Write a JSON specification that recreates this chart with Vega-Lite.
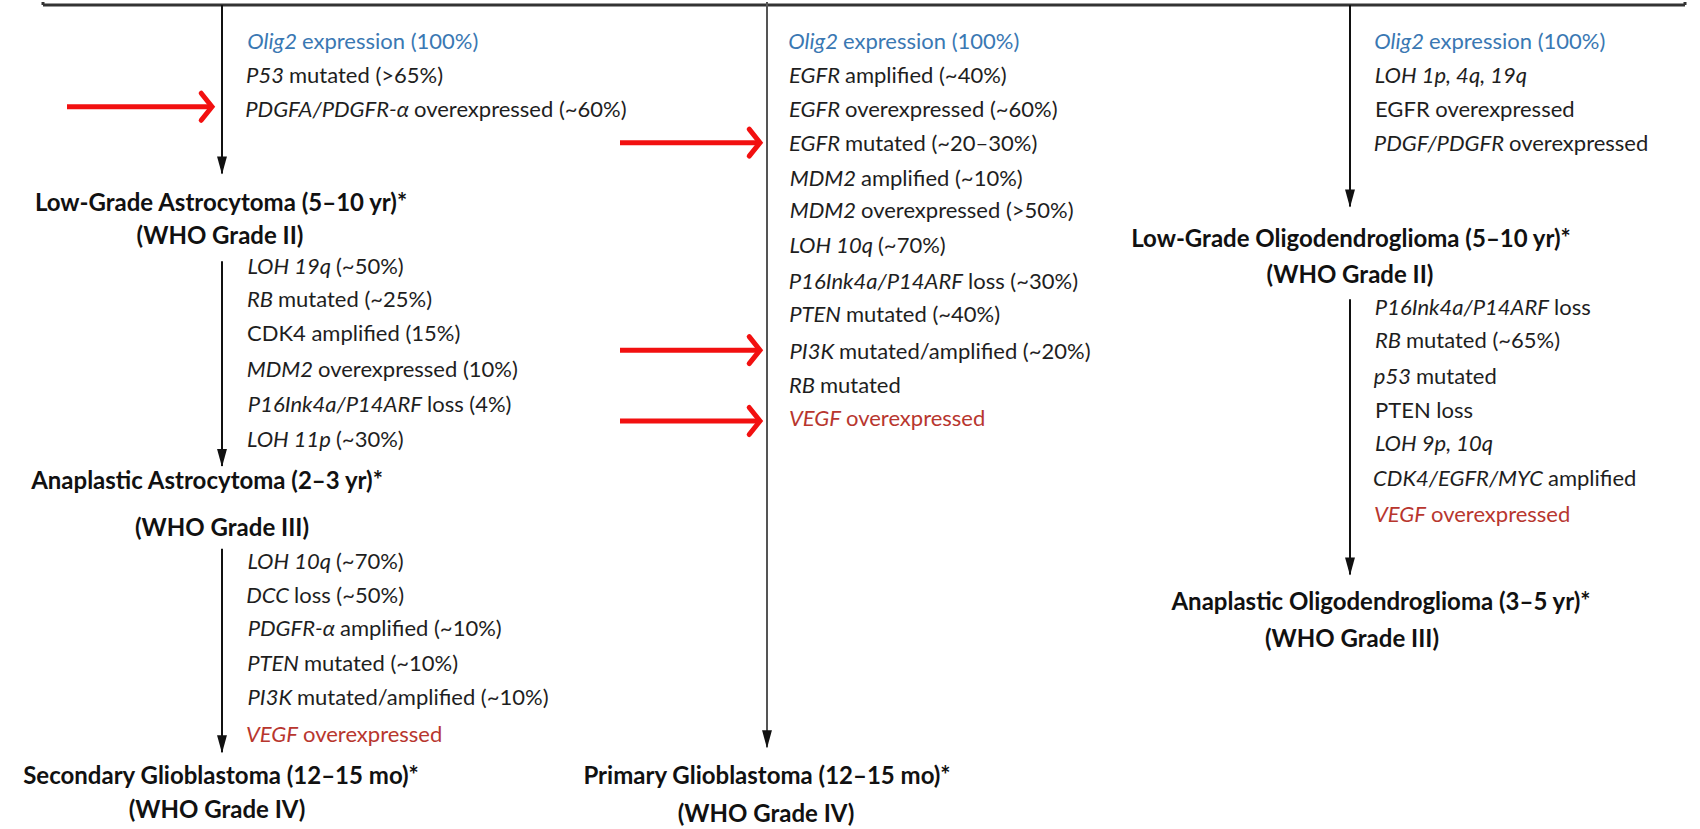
{
  "$schema": "https://vega.github.io/schema/vega-lite/v6.json",
  "width": 1700,
  "height": 829,
  "autosize": {"type": "fit", "contains": "padding"},
  "padding": 0,
  "background": "white",
  "config": {"view": {"stroke": null}},
  "datasets": {
    "lines": [
      {"jx": 297, "y": 40, "gene": "Olig2", "rest": "expression (100%)", "tone": "olig"},
      {"jx": 284, "y": 74, "gene": "P53", "rest": "mutated (>65%)", "tone": "plain"},
      {"jx": 409, "y": 108, "gene": "PDGFA/PDGFR-α", "rest": "overexpressed (~60%)", "tone": "plain"},
      {"jx": 331, "y": 266, "gene": "LOH 19q", "rest": "(~50%)", "tone": "plain"},
      {"jx": 273, "y": 299, "gene": "RB", "rest": "mutated (~25%)", "tone": "plain"},
      {"jx": 242, "y": 333, "gene": "", "rest": "CDK4 amplified (15%)", "tone": "plain"},
      {"jx": 313, "y": 369, "gene": "MDM2", "rest": "overexpressed (10%)", "tone": "plain"},
      {"jx": 422, "y": 404, "gene": "P16Ink4a/P14ARF", "rest": "loss (4%)", "tone": "plain"},
      {"jx": 331, "y": 439, "gene": "LOH 11p", "rest": "(~30%)", "tone": "plain"},
      {"jx": 331, "y": 561, "gene": "LOH 10q", "rest": "(~70%)", "tone": "plain"},
      {"jx": 289, "y": 595, "gene": "DCC", "rest": "loss (~50%)", "tone": "plain"},
      {"jx": 335, "y": 629, "gene": "PDGFR-α", "rest": "amplified (~10%)", "tone": "plain"},
      {"jx": 299, "y": 664, "gene": "PTEN", "rest": "mutated (~10%)", "tone": "plain"},
      {"jx": 292, "y": 698, "gene": "PI3K", "rest": "mutated/amplified (~10%)", "tone": "plain"},
      {"jx": 298, "y": 735, "gene": "VEGF", "rest": "overexpressed", "tone": "vegf"},
      {"jx": 838, "y": 40, "gene": "Olig2", "rest": "expression (100%)", "tone": "olig"},
      {"jx": 840, "y": 74, "gene": "EGFR", "rest": "amplified (~40%)", "tone": "plain"},
      {"jx": 840, "y": 108, "gene": "EGFR", "rest": "overexpressed (~60%)", "tone": "plain"},
      {"jx": 840, "y": 142, "gene": "EGFR", "rest": "mutated (~20–30%)", "tone": "plain"},
      {"jx": 856, "y": 177, "gene": "MDM2", "rest": "amplified (~10%)", "tone": "plain"},
      {"jx": 856, "y": 210, "gene": "MDM2", "rest": "overexpressed (>50%)", "tone": "plain"},
      {"jx": 873, "y": 245, "gene": "LOH 10q", "rest": "(~70%)", "tone": "plain"},
      {"jx": 963, "y": 281, "gene": "P16Ink4a/P14ARF", "rest": "loss (~30%)", "tone": "plain"},
      {"jx": 841, "y": 314, "gene": "PTEN", "rest": "mutated (~40%)", "tone": "plain"},
      {"jx": 834, "y": 351, "gene": "PI3K", "rest": "mutated/amplified (~20%)", "tone": "plain"},
      {"jx": 815, "y": 385, "gene": "RB", "rest": "mutated", "tone": "plain"},
      {"jx": 841, "y": 418, "gene": "VEGF", "rest": "overexpressed", "tone": "vegf"},
      {"jx": 1424, "y": 40, "gene": "Olig2", "rest": "expression (100%)", "tone": "olig"},
      {"jx": 1527, "y": 74, "gene": "LOH 1p, 4q, 19q", "rest": "", "tone": "plain"},
      {"jx": 1370, "y": 108, "gene": "", "rest": "EGFR overexpressed", "tone": "plain"},
      {"jx": 1504, "y": 142, "gene": "PDGF/PDGFR", "rest": "overexpressed", "tone": "plain"},
      {"jx": 1549, "y": 307, "gene": "P16Ink4a/P14ARF", "rest": "loss", "tone": "plain"},
      {"jx": 1401, "y": 340, "gene": "RB", "rest": "mutated (~65%)", "tone": "plain"},
      {"jx": 1411, "y": 376, "gene": "p53", "rest": "mutated", "tone": "plain"},
      {"jx": 1370, "y": 410, "gene": "", "rest": "PTEN loss", "tone": "plain"},
      {"jx": 1493, "y": 443, "gene": "LOH 9p, 10q", "rest": "", "tone": "plain"},
      {"jx": 1543, "y": 478, "gene": "CDK4/EGFR/MYC", "rest": "amplified", "tone": "plain"},
      {"jx": 1426, "y": 514, "gene": "VEGF", "rest": "overexpressed", "tone": "vegf"}
    ],
    "heads": [
      {"x": 221, "y": 202, "label": "Low-Grade Astrocytoma (5–10 yr)*"},
      {"x": 220, "y": 236, "label": "(WHO Grade II)"},
      {"x": 207, "y": 481, "label": "Anaplastic Astrocytoma (2–3 yr)*"},
      {"x": 222, "y": 528, "label": "(WHO Grade III)"},
      {"x": 221, "y": 777, "label": "Secondary Glioblastoma (12–15 mo)*"},
      {"x": 217, "y": 811, "label": "(WHO Grade IV)"},
      {"x": 767, "y": 777, "label": "Primary Glioblastoma (12–15 mo)*"},
      {"x": 766, "y": 815, "label": "(WHO Grade IV)"},
      {"x": 1351, "y": 239, "label": "Low-Grade Oligodendroglioma (5–10 yr)*"},
      {"x": 1350, "y": 275, "label": "(WHO Grade II)"},
      {"x": 1381, "y": 602, "label": "Anaplastic Oligodendroglioma (3–5 yr)*"},
      {"x": 1352, "y": 640, "label": "(WHO Grade III)"}
    ],
    "segs": [
      {"x": 43, "y": 3, "x2": 1685, "y2": 3, "kind": "border"},
      {"x": 43, "y": 0, "x2": 43, "y2": 3, "kind": "border"},
      {"x": 1685, "y": 0, "x2": 1685, "y2": 3, "kind": "border"},
      {"x": 222, "y": 3, "x2": 222, "y2": 172, "kind": "arrow"},
      {"x": 222, "y": 260, "x2": 222, "y2": 465, "kind": "arrow"},
      {"x": 222, "y": 548, "x2": 222, "y2": 752, "kind": "arrow"},
      {"x": 1350, "y": 3, "x2": 1350, "y2": 205, "kind": "arrow"},
      {"x": 1350, "y": 298, "x2": 1350, "y2": 574, "kind": "arrow"},
      {"x": 767, "y": 0, "x2": 767, "y2": 747, "kind": "mid"},
      {"x": 67, "y": 105, "x2": 210, "y2": 105, "kind": "red"},
      {"x": 620, "y": 141, "x2": 758, "y2": 141, "kind": "red"},
      {"x": 620, "y": 349, "x2": 758, "y2": 349, "kind": "red"},
      {"x": 620, "y": 420, "x2": 758, "y2": 420, "kind": "red"}
    ],
    "tips": [
      {"x": 222, "y": 173, "kind": "black"},
      {"x": 222, "y": 466, "kind": "black"},
      {"x": 222, "y": 753, "kind": "black"},
      {"x": 1350, "y": 206, "kind": "black"},
      {"x": 1350, "y": 575, "kind": "black"},
      {"x": 767, "y": 748, "kind": "black"},
      {"x": 212, "y": 105, "kind": "red"},
      {"x": 760, "y": 141, "kind": "red"},
      {"x": 760, "y": 349, "kind": "red"},
      {"x": 760, "y": 420, "kind": "red"}
    ]
  },
  "encoding": {
    "y": {"field": "y", "type": "quantitative", "scale": {"domain": [0, 829], "nice": false, "zero": false, "reverse": true}, "axis": null}
  },
  "layer": [
    {
      "data": {"name": "segs"},
      "transform": [{"filter": "datum.kind === 'border'"}],
      "mark": {"type": "rule", "color": "#333333", "strokeWidth": 3},
      "encoding": {"x": {"field": "x", "type": "quantitative", "scale": {"domain": [0, 1700], "nice": false, "zero": false}, "axis": null}, "x2": {"field": "x2"}, "y2": {"field": "y2"}}
    },
    {
      "data": {"name": "segs"},
      "transform": [{"filter": "datum.kind === 'arrow'"}],
      "mark": {"type": "rule", "color": "#111111", "strokeWidth": 2},
      "encoding": {"x": {"field": "x", "type": "quantitative"}, "x2": {"field": "x2"}, "y2": {"field": "y2"}}
    },
    {
      "data": {"name": "segs"},
      "transform": [{"filter": "datum.kind === 'mid'"}],
      "mark": {"type": "rule", "color": "#555555", "strokeWidth": 2},
      "encoding": {"x": {"field": "x", "type": "quantitative"}, "x2": {"field": "x2"}, "y2": {"field": "y2"}}
    },
    {
      "data": {"name": "segs"},
      "transform": [{"filter": "datum.kind === 'red'"}],
      "mark": {"type": "rule", "color": "#f21010", "strokeWidth": 5},
      "encoding": {"x": {"field": "x", "type": "quantitative"}, "x2": {"field": "x2"}, "y2": {"field": "y2"}}
    },
    {
      "data": {"name": "tips"},
      "transform": [{"filter": "datum.kind === 'black'"}],
      "mark": {"type": "point", "shape": "M-0.55,-2L0.55,-2L0,0Z", "filled": true, "size": 324, "color": "#111111", "opacity": 1},
      "encoding": {"x": {"field": "x", "type": "quantitative"}}
    },
    {
      "data": {"name": "tips"},
      "transform": [{"filter": "datum.kind === 'red'"}],
      "mark": {"type": "point", "shape": "M-0.8,-1L0,0L-0.8,1", "filled": false, "size": 729, "color": "#f21010", "strokeWidth": 5, "strokeCap": "round", "strokeJoin": "miter", "opacity": 1},
      "encoding": {"x": {"field": "x", "type": "quantitative"}}
    },
    {
      "data": {"name": "lines"},
      "mark": {"type": "text", "align": "right", "baseline": "middle", "font": "Lato", "fontSize": 22, "fontStyle": "italic"},
      "encoding": {
        "x": {"field": "jx", "type": "quantitative"},
        "text": {"field": "gene"},
        "color": {"field": "tone", "type": "nominal", "scale": {"domain": ["olig", "plain", "vegf"], "range": ["#3a78b3", "#1e1e1e", "#b8362e"]}, "legend": null}
      }
    },
    {
      "data": {"name": "lines"},
      "mark": {"type": "text", "align": "left", "baseline": "middle", "font": "Lato", "fontSize": 22, "dx": 5},
      "encoding": {
        "x": {"field": "jx", "type": "quantitative"},
        "text": {"field": "rest"},
        "color": {"field": "tone", "type": "nominal", "legend": null}
      }
    },
    {
      "data": {"name": "heads"},
      "mark": {"type": "text", "align": "center", "baseline": "middle", "font": "Lato", "fontSize": 24, "fontWeight": "bold", "color": "#111111"},
      "encoding": {"x": {"field": "x", "type": "quantitative"}, "text": {"field": "label"}}
    }
  ]
}
